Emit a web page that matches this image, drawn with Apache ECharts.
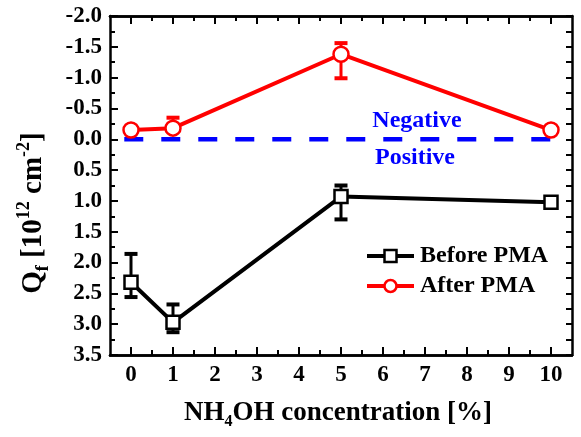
<!DOCTYPE html>
<html>
<head>
<meta charset="utf-8">
<script src="https://cdn.jsdelivr.net/npm/echarts@6/dist/echarts.min.js"></script>
<style>
  html, body { margin: 0; padding: 0; background: #fff; }
  #chart { width: 581px; height: 437px; }
</style>
</head>
<body>
<div id="chart"></div>
<script>
// NH4OH concentration [%]
var concentrations = [0, 1, 5, 10];
// Fixed charge Qf [10^12 cm^-2] (positive values plotted downward)
var beforePMA = [2.32, 2.97, 0.93, 1.02];
var beforeErrLow = [1.86, 2.68, 0.75, null];
var beforeErrHigh = [2.56, 3.13, 1.30, null];
var afterPMA = [-0.15, -0.18, -1.38, -0.15];
var afterErrLow = [null, -0.35, -1.56, null];
var afterErrHigh = [null, -0.18, -0.99, null];
// Sign boundary drawn as a dashed line at Qf = 0
var zeroLineX = [-0.16, 10];
var xMajorTicks = [0, 1, 2, 3, 4, 5, 6, 7, 8, 9, 10];
var xMinorTicks = [0.5, 1.5, 2.5, 3.5, 4.5, 5.5, 6.5, 7.5, 8.5, 9.5];

var FONT = '"Liberation Serif", "Times New Roman", serif';

function pairs(xs, ys) {
  return xs.map(function (x, i) { return [x, ys[i]]; });
}
function errData(xs, lo, hi) {
  var out = [];
  xs.forEach(function (x, i) {
    if (lo[i] !== null && hi[i] !== null) out.push([x, lo[i], hi[i]]);
  });
  return out;
}
function errorBarSeries(data, color) {
  return {
    type: 'custom',
    xAxisIndex: 0,
    yAxisIndex: 0,
    z: 1,
    silent: true,
    data: data,
    encode: { x: 0, y: [1, 2] },
    renderItem: function (params, api) {
      var x = api.value(0);
      var p1 = api.coord([x, api.value(1)]);
      var p2 = api.coord([x, api.value(2)]);
      var hw = 6.5;
      return {
        type: 'group',
        children: [
          { type: 'line', shape: { x1: p1[0], y1: p1[1], x2: p2[0], y2: p2[1] }, style: { stroke: color, lineWidth: 3 } },
          { type: 'line', shape: { x1: p1[0] - hw, y1: p1[1], x2: p1[0] + hw, y2: p1[1] }, style: { stroke: color, lineWidth: 4 } },
          { type: 'line', shape: { x1: p2[0] - hw, y1: p2[1], x2: p2[0] + hw, y2: p2[1] }, style: { stroke: color, lineWidth: 4 } }
        ]
      };
    }
  };
}

var axisLineStyle = { color: '#000', width: 2.5 };

function xAxisDef(position, ticks, len, showLabels) {
  return {
    type: 'value',
    position: position,
    min: -0.5,
    max: 10.5,
    axisLine: { show: true, onZero: false, lineStyle: axisLineStyle },
    axisTick: { show: true, inside: true, length: len, customValues: ticks, lineStyle: { color: '#000', width: 2 } },
    axisLabel: showLabels ? {
      show: true, customValues: ticks, margin: 9,
      color: '#000', fontFamily: FONT, fontWeight: 'bold', fontSize: 23
    } : { show: false },
    splitLine: { show: false }
  };
}

function yAxisDef(position, majorLen, minorLen, showLabels) {
  return {
    type: 'value',
    position: position,
    inverse: true,
    min: -2,
    max: 3.5,
    interval: 0.5,
    axisLine: { show: true, onZero: false, lineStyle: axisLineStyle },
    axisTick: { show: true, inside: true, length: majorLen, lineStyle: { color: '#000', width: 2 } },
    minorTick: { show: true, splitNumber: 2, length: minorLen, lineStyle: { color: '#000', width: 2 } },
    axisLabel: showLabels ? {
      show: true, margin: 8,
      color: '#000', fontFamily: FONT, fontWeight: 'bold', fontSize: 23,
      formatter: function (v) { return v.toFixed(1); }
    } : { show: false },
    splitLine: { show: false },
    minorSplitLine: { show: false }
  };
}

var chart = echarts.init(document.getElementById('chart'), null, { renderer: 'canvas' });

chart.setOption({
  animation: false,
  backgroundColor: '#fff',
  grid: { left: 110, top: 16, right: 9, bottom: 82, containLabel: false },
  xAxis: [
    xAxisDef('bottom', xMajorTicks, 8, true),
    xAxisDef('bottom', xMinorTicks, 5, false),
    xAxisDef('top', xMajorTicks, 8, false),
    xAxisDef('top', xMinorTicks, 5, false)
  ],
  yAxis: [
    yAxisDef('left', 8, 5, true),
    yAxisDef('right', 6, 6, false)
  ],
  legend: {
    orient: 'vertical',
    left: 360,
    top: 239,
    itemWidth: 47,
    itemHeight: 15,
    itemGap: 6,
    selectedMode: false,
    data: ['Before PMA', 'After PMA'],
    lineStyle: { width: 4 },
    itemStyle: { borderWidth: 2.5 },
    textStyle: { color: '#000', fontFamily: FONT, fontWeight: 'bold', fontSize: 24, padding: [0, 0, 0, 1] }
  },
  graphic: [
    {
      type: 'text', x: 34, y: 213, rotation: Math.PI / 2,
      style: {
        text: '{m|Q}{sub|f}{m| [10}{sup|12}{m| cm}{sup|-2}{m|]}',
        align: 'center', verticalAlign: 'middle',
        rich: {
          m: { fontFamily: FONT, fontWeight: 'bold', fontSize: 29, lineHeight: 37, fill: '#000' },
          sup: { fontFamily: FONT, fontWeight: 'bold', fontSize: 18, lineHeight: 18, verticalAlign: 'top', fill: '#000' },
          sub: { fontFamily: FONT, fontWeight: 'bold', fontSize: 18, lineHeight: 18, verticalAlign: 'bottom', fill: '#000' }
        }
      }
    },
    {
      type: 'text', x: 338, y: 413,
      style: {
        text: '{m|NH}{sub|4}{m|OH concentration [%]}',
        align: 'center', verticalAlign: 'middle',
        rich: {
          m: { fontFamily: FONT, fontWeight: 'bold', fontSize: 27, lineHeight: 34, fill: '#000' },
          sub: { fontFamily: FONT, fontWeight: 'bold', fontSize: 16, lineHeight: 16, verticalAlign: 'bottom', fill: '#000' }
        }
      }
    },
    {
      type: 'text', x: 417, y: 121,
      style: { text: 'Negative', align: 'center', verticalAlign: 'middle', fontFamily: FONT, fontWeight: 'bold', fontSize: 24, fill: '#0000ff' }
    },
    {
      type: 'text', x: 415, y: 158,
      style: { text: 'Positive', align: 'center', verticalAlign: 'middle', fontFamily: FONT, fontWeight: 'bold', fontSize: 24, fill: '#0000ff' }
    }
  ],
  series: [
    {
      name: 'zero',
      type: 'line',
      xAxisIndex: 0, yAxisIndex: 0,
      data: pairs(zeroLineX, [0, 0]),
      symbol: 'none',
      silent: true,
      z: 0,
      lineStyle: { color: '#0000ff', width: 4.5, type: [19, 18] }
    },
    errorBarSeries(errData(concentrations, beforeErrLow, beforeErrHigh), '#000'),
    errorBarSeries(errData(concentrations, afterErrLow, afterErrHigh), '#ff0000'),
    {
      name: 'Before PMA',
      type: 'line',
      xAxisIndex: 0, yAxisIndex: 0,
      data: pairs(concentrations, beforePMA),
      symbol: 'rect',
      symbolSize: 13,
      z: 3,
      lineStyle: { color: '#000', width: 4 },
      itemStyle: { color: '#fff', borderColor: '#000', borderWidth: 2.5 }
    },
    {
      name: 'After PMA',
      type: 'line',
      xAxisIndex: 0, yAxisIndex: 0,
      data: pairs(concentrations, afterPMA),
      symbol: 'circle',
      symbolSize: 15,
      z: 3,
      lineStyle: { color: '#ff0000', width: 4 },
      itemStyle: { color: '#fff', borderColor: '#ff0000', borderWidth: 2.5 }
    }
  ]
});
</script>
</body>
</html>
